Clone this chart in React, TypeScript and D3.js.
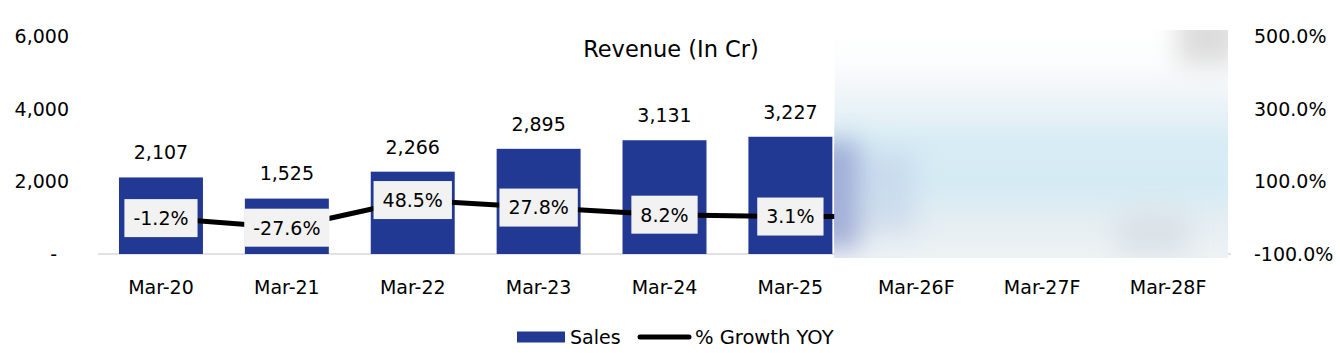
import { useEffect, useRef } from 'react';
import * as d3 from 'd3';

const categories = ['Mar-20', 'Mar-21', 'Mar-22', 'Mar-23', 'Mar-24', 'Mar-25', 'Mar-26F', 'Mar-27F', 'Mar-28F'];
// forecast years are masked in the source picture
const sales: (number | null)[] = [2107, 1525, 2266, 2895, 3131, 3227, null, null, null];
const growth: (number | null)[] = [-1.2, -27.6, 48.5, 27.8, 8.2, 3.1, null, null, null];
const leftTicks = [0, 2000, 4000, 6000];
const rightTicks = [-100, 100, 300, 500];

const FONT = '"DejaVu Sans", Verdana, sans-serif';

export default function App() {
  const svgRef = useRef<SVGSVGElement>(null);

  useEffect(() => {
    if (!svgRef.current) return;
    const width = 1340;
    const height = 353;

    d3.select(svgRef.current).selectAll('*').remove();
    const svg = d3.select(svgRef.current);

    // scales
    const x = d3.scaleBand<string>().domain(categories).range([98, 1231]).paddingInner(0.333).paddingOuter(0.1667);
    const yL = d3.scaleLinear().domain([0, 6000]).range([254, 36]);
    const yR = d3.scaleLinear().domain([-100, 500]).range([254, 36]);
    const cx = (c: string) => (x(c) as number) + x.bandwidth() / 2;

    // masked forecast area bounds
    const fx0 = (x('Mar-25') as number) + x.bandwidth() + 2;
    const fx1 = x.range()[1] - 3;
    const fy0 = yL(6000) - 6;
    const fy1 = yL(0) + 4;

    const defs = svg.append('defs');
    const fogV = defs.append('linearGradient').attr('id', 'fogV').attr('x1', 0).attr('y1', 0).attr('x2', 0).attr('y2', 1);
    [
      [0, '#ffffff'],
      [0.15, '#fbfcfd'],
      [0.3, '#eef4f7'],
      [0.5, '#d7ecf5'],
      [0.68, '#d5ebf4'],
      [0.85, '#e5eef2'],
      [1, '#eef2f5'],
    ].forEach(([o, c]) => fogV.append('stop').attr('offset', o as number).attr('stop-color', c as string));
    defs
      .append('filter')
      .attr('id', 'soft')
      .attr('x', '-50%')
      .attr('y', '-50%')
      .attr('width', '200%')
      .attr('height', '200%')
      .append('feGaussianBlur')
      .attr('stdDeviation', 12);
    defs
      .append('clipPath')
      .attr('id', 'fogClip')
      .append('rect')
      .attr('x', fx0)
      .attr('y', fy0)
      .attr('width', fx1 - fx0)
      .attr('height', fy1 - fy0);

    // title
    svg
      .append('text')
      .attr('x', width / 2 + 1)
      .attr('y', 57)
      .attr('text-anchor', 'middle')
      .style('font-family', FONT)
      .style('font-size', '22.5px')
      .attr('fill', '#000')
      .text('Revenue (In Cr)');

    // axis baseline
    svg
      .append('line')
      .attr('x1', x.range()[0])
      .attr('x2', x.range()[1])
      .attr('y1', yL(0))
      .attr('y2', yL(0))
      .attr('stroke', '#d9d9d9')
      .attr('stroke-width', 1.5);

    // left axis labels
    svg
      .append('g')
      .selectAll('text')
      .data(leftTicks)
      .join('text')
      .attr('x', (d) => (d === 0 ? 57 : 69))
      .attr('y', (d) => yL(d))
      .attr('dy', '0.36em')
      .attr('text-anchor', 'end')
      .style('font-family', FONT)
      .style('font-size', '19px')
      .text((d) => (d === 0 ? '-' : d3.format(',')(d)));

    // right axis labels
    svg
      .append('g')
      .selectAll('text')
      .data(rightTicks)
      .join('text')
      .attr('x', 1254)
      .attr('y', (d) => yR(d))
      .attr('dy', '0.36em')
      .attr('text-anchor', 'start')
      .style('font-family', FONT)
      .style('font-size', '19px')
      .text((d) => `${d.toFixed(1)}%`);

    // category labels
    svg
      .append('g')
      .selectAll('text')
      .data(categories)
      .join('text')
      .attr('x', (d) => cx(d))
      .attr('y', 287)
      .attr('dy', '0.36em')
      .attr('text-anchor', 'middle')
      .style('font-family', FONT)
      .style('font-size', '19px')
      .text((d) => d);

    // bars
    const barData = categories.map((c, i) => ({ c, v: sales[i] })).filter((d) => d.v != null) as { c: string; v: number }[];
    svg
      .append('g')
      .selectAll('rect')
      .data(barData)
      .join('rect')
      .attr('x', (d) => x(d.c) as number)
      .attr('y', (d) => yL(d.v))
      .attr('width', x.bandwidth())
      .attr('height', (d) => yL(0) - yL(d.v))
      .attr('fill', '#213993');

    svg
      .append('g')
      .selectAll('text')
      .data(barData)
      .join('text')
      .attr('x', (d) => cx(d.c))
      .attr('y', (d) => yL(d.v) - 25)
      .attr('dy', '0.36em')
      .attr('text-anchor', 'middle')
      .style('font-family', FONT)
      .style('font-size', '19px')
      .text((d) => d3.format(',')(d.v));

    // growth line
    const lineData = categories.map((c, i) => ({ c, v: growth[i] })).filter((d) => d.v != null) as { c: string; v: number }[];
    const line = d3
      .line<{ c: string; v: number }>()
      .x((d) => cx(d.c))
      .y((d) => yR(d.v));
    svg
      .append('path')
      .datum(lineData)
      .attr('d', line)
      .attr('fill', 'none')
      .attr('stroke', '#000')
      .attr('stroke-width', 5)
      .attr('stroke-linejoin', 'round');
    // the line runs on into the masked area
    const last = lineData[lineData.length - 1];
    svg
      .append('line')
      .attr('x1', cx(last.c))
      .attr('x2', fx0 + 4)
      .attr('y1', yR(last.v))
      .attr('y2', yR(last.v))
      .attr('stroke', '#000')
      .attr('stroke-width', 5);

    // growth labels in boxes
    const lbl = svg
      .append('g')
      .selectAll('g')
      .data(lineData)
      .join('g')
      .attr('transform', (d) => `translate(${cx(d.c)},${yR(d.v)})`);
    lbl.each(function (d) {
      const g = d3.select(this);
      const t = g
        .append('text')
        .attr('text-anchor', 'middle')
        .attr('dy', '0.36em')
        .style('font-family', FONT)
        .style('font-size', '19px')
        .text(`${d.v.toFixed(1)}%`);
      const w = (t.node() as SVGTextElement).getComputedTextLength() + 18;
      g.insert('rect', 'text')
        .attr('x', -w / 2)
        .attr('y', -19)
        .attr('width', w)
        .attr('height', 38)
        .attr('fill', '#f2f2f2');
    });

    // masked forecast area
    const fog = svg.append('g').attr('clip-path', 'url(#fogClip)');
    fog.append('rect').attr('x', fx0).attr('y', fy0).attr('width', fx1 - fx0).attr('height', fy1 - fy0).attr('fill', 'url(#fogV)');
    const soft = fog.append('g').attr('filter', 'url(#soft)');
    soft
      .append('rect')
      .attr('x', fx0 - 20)
      .attr('y', yL(3100))
      .attr('width', 45)
      .attr('height', fy1 - yL(3100) - 10)
      .attr('fill', 'rgb(140,152,205)')
      .attr('opacity', 0.75);
    soft
      .append('rect')
      .attr('x', fx0 + 20)
      .attr('y', yL(2800))
      .attr('width', 60)
      .attr('height', fy1 - yL(2800) - 25)
      .attr('fill', 'rgb(190,205,232)')
      .attr('opacity', 0.5);
    soft
      .append('rect')
      .attr('x', fx1 - 50)
      .attr('y', fy0 - 20)
      .attr('width', 60)
      .attr('height', 55)
      .attr('fill', '#dcdcdc');
    soft
      .append('rect')
      .attr('x', fx1 - 110)
      .attr('y', yL(1200))
      .attr('width', 70)
      .attr('height', 45)
      .attr('fill', '#d6dde2')
      .attr('opacity', 0.7);

    // legend
    const legend = svg.append('g').attr('transform', `translate(517, 337)`);
    legend.append('rect').attr('x', 0).attr('y', -5.5).attr('width', 48).attr('height', 11).attr('fill', '#213993');
    legend
      .append('text')
      .attr('x', 53)
      .attr('dy', '0.36em')
      .style('font-family', FONT)
      .style('font-size', '19px')
      .text('Sales');
    legend
      .append('line')
      .attr('x1', 123)
      .attr('x2', 172)
      .attr('stroke', '#000')
      .attr('stroke-width', 5)
      .attr('stroke-linecap', 'round');
    legend
      .append('text')
      .attr('x', 178)
      .attr('dy', '0.36em')
      .style('font-family', FONT)
      .style('font-size', '19.5px')
      .text('% Growth YOY');

    svg.attr('width', width).attr('height', height);
  }, []);

  return (
    <svg
      ref={svgRef}
      width={1340}
      height={353}
      style={{ position: 'absolute', left: 0, top: 0, background: '#fff', display: 'block' }}
    />
  );
}
